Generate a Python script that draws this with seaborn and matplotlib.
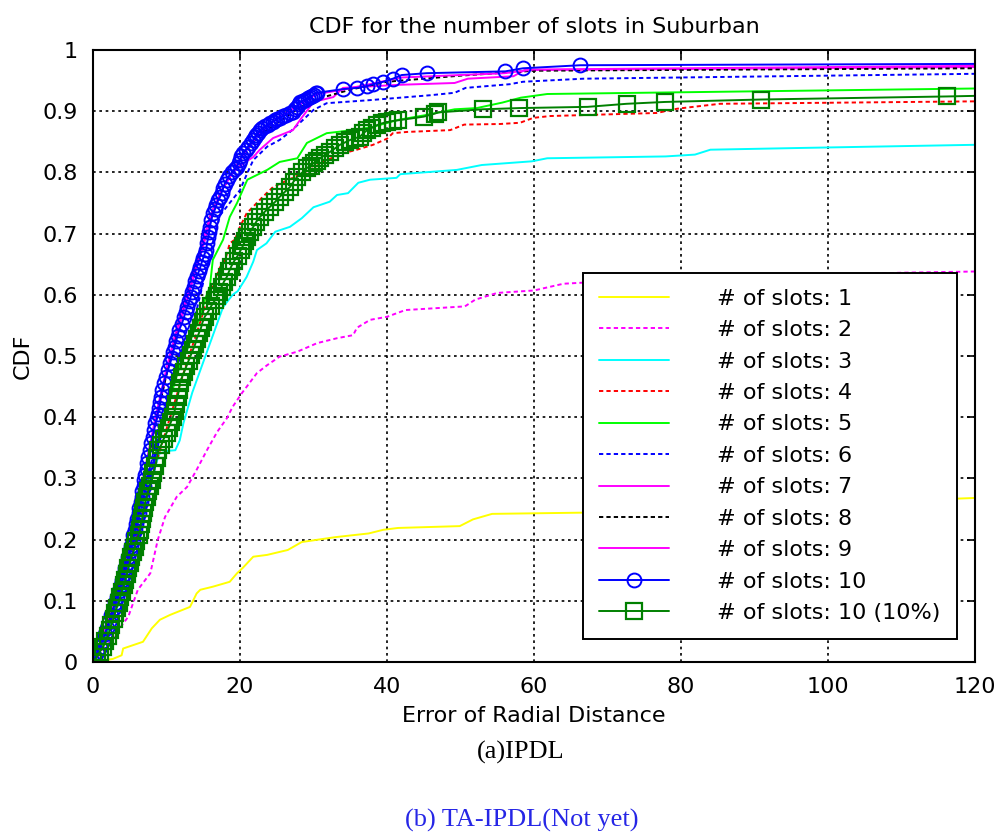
import matplotlib
matplotlib.use("Agg")
import matplotlib.pyplot as plt
import seaborn as sns

# ---------------- data ----------------
labels = ["# of slots: 1", "# of slots: 2", "# of slots: 3", "# of slots: 4",
          "# of slots: 5", "# of slots: 6", "# of slots: 7", "# of slots: 8",
          "# of slots: 9", "# of slots: 10", "# of slots: 10 (10%)"]

s1_x = [0, 2.7, 3.9, 4.1, 6.8, 8.0, 9.1, 10.5, 13.2, 14.1, 14.6, 16.3, 18.6, 19.6, 20.4,
        21.8, 23.7, 26.5, 28.4, 33.0, 37.5, 39.5, 41.5, 49.9, 51.7, 54.3, 66.7, 120]
s1_y = [0, 0.005, 0.011, 0.022, 0.033, 0.055, 0.069, 0.077, 0.09, 0.112, 0.118, 0.123, 0.131,
        0.145, 0.154, 0.172, 0.175, 0.183, 0.196, 0.204, 0.21, 0.216, 0.219, 0.222, 0.233,
        0.242, 0.244, 0.268]

s2_x = [0, 1.5, 3.0, 4.8, 6.1, 7.8, 8.8, 9.8, 11.4, 12.8, 14.1, 15.5, 16.9, 18.2, 19.0, 20.3,
        22.3, 23.7, 25.4, 27.8, 30.5, 33.2, 35.4, 35.9, 37.7, 40.0, 42.5, 50.6, 52.0, 55.0,
        60.0, 64.0, 67.0, 110.0, 120]
s2_y = [0, 0.02, 0.045, 0.074, 0.118, 0.145, 0.199, 0.237, 0.27, 0.286, 0.314, 0.346, 0.376,
        0.398, 0.417, 0.44, 0.472, 0.485, 0.499, 0.507, 0.521, 0.529, 0.534, 0.546, 0.559,
        0.564, 0.575, 0.581, 0.592, 0.603, 0.607, 0.618, 0.62, 0.636, 0.638]

s3_x = [0, 1.0, 2.0, 3.0, 4.0, 5.0, 6.0, 7.0, 7.8, 8.5, 9.0, 10.2, 11.2, 11.8, 12.3, 13.5,
        15.0, 16.5, 17.7, 19.0, 19.7, 20.9, 21.8, 22.3, 23.6, 24.8, 26.8, 28.4, 30.0, 32.2,
        33.2, 34.7, 36.1, 37.7, 41.3, 41.8, 49.5, 52.9, 59.7, 61.8, 77.9, 81.9, 84.0, 97.0, 120]
s3_y = [0, 0.02, 0.05, 0.08, 0.11, 0.16, 0.2, 0.25, 0.29, 0.32, 0.34, 0.345, 0.346, 0.362,
        0.39, 0.44, 0.49, 0.54, 0.58, 0.6, 0.606, 0.629, 0.654, 0.673, 0.684, 0.703, 0.711,
        0.725, 0.743, 0.752, 0.763, 0.766, 0.783, 0.788, 0.791, 0.797, 0.804, 0.812, 0.818,
        0.823, 0.826, 0.829, 0.837, 0.84, 0.845]

s4_x = [0, 1.4, 3.0, 5.0, 7.0, 8.7, 10.5, 12.0, 13.2, 14.1, 15.5, 16.2, 17.3, 18.0, 18.6,
        19.3, 20.0, 20.9, 22.7, 23.1, 24.5, 27.0, 29.5, 31.8, 34.0, 35.9, 38.1, 40.0, 40.8,
        42.7, 48.6, 50.5, 55.4, 58.1, 59.9, 62.2, 76.7, 79.5, 85.3, 120]
s4_y = [0, 0.025, 0.08, 0.16, 0.26, 0.33, 0.4, 0.46, 0.505, 0.537, 0.591, 0.613, 0.645,
        0.657, 0.684, 0.69, 0.711, 0.733, 0.755, 0.76, 0.776, 0.79, 0.804, 0.82, 0.831, 0.837,
        0.845, 0.855, 0.864, 0.866, 0.869, 0.878, 0.879, 0.881, 0.889, 0.892, 0.897, 0.904,
        0.912, 0.916]

s5_x = [0, 1.0, 2.5, 4.0, 5.5, 7.0, 8.5, 10.0, 11.2, 12.2, 12.8, 13.6, 14.6, 15.2, 15.9,
        16.3, 17.7, 18.6, 19.6, 21.0, 23.7, 25.4, 27.8, 29.1, 31.8, 35.4, 38.0, 41.6, 45.0,
        49.2, 52.2, 55.7, 58.2, 61.8, 120]
s5_y = [0, 0.02, 0.07, 0.13, 0.2, 0.27, 0.34, 0.41, 0.46, 0.498, 0.51, 0.537, 0.564, 0.591,
        0.613, 0.657, 0.69, 0.727, 0.75, 0.788, 0.804, 0.817, 0.823, 0.848, 0.864, 0.869,
        0.874, 0.886, 0.893, 0.903, 0.905, 0.914, 0.922, 0.928, 0.937]

s6_x = [0, 1.2, 2.8, 4.5, 6.0, 7.0, 8.0, 9.0, 10.5, 12.1, 13.2, 14.1, 15.0, 15.8, 16.6,
        17.3, 18.6, 20.0, 21.0, 21.8, 23.7, 25.4, 26.8, 28.6, 30.0, 31.8, 37.7, 45.9, 49.2,
        50.7, 56.7, 58.5, 66.7, 120]
s6_y = [0, 0.03, 0.08, 0.15, 0.22, 0.28, 0.33, 0.39, 0.45, 0.49, 0.54, 0.575, 0.62, 0.66,
        0.7, 0.73, 0.75, 0.771, 0.799, 0.82, 0.842, 0.853, 0.866, 0.886, 0.902, 0.913, 0.918,
        0.926, 0.93, 0.938, 0.944, 0.948, 0.953, 0.961]

s7_x = [0, 1.0, 2.5, 4.0, 5.5, 7.0, 8.5, 10.0, 11.5, 13.0, 14.5, 16.0, 17.5, 19.0, 20.5,
        21.8, 22.7, 24.5, 27.2, 28.2, 30.0, 32.7, 34.0, 41.6, 49.2, 51.0, 57.2, 58.7, 120]
s7_y = [0, 0.03, 0.08, 0.14, 0.21, 0.3, 0.39, 0.47, 0.54, 0.6, 0.66, 0.72, 0.77, 0.8, 0.815,
        0.825, 0.837, 0.856, 0.869, 0.886, 0.915, 0.923, 0.938, 0.943, 0.946, 0.953, 0.957,
        0.967, 0.972]

s8_x = [0, 1.0, 2.5, 4.0, 5.5, 7.0, 8.5, 10.0, 11.5, 13.0, 14.5, 16.0, 17.5, 19.0, 20.5,
        22.5, 25.0, 28.0, 30.5, 35.0, 40.0, 50.0, 60.0, 120]
s8_y = [0, 0.03, 0.08, 0.14, 0.21, 0.3, 0.39, 0.47, 0.55, 0.61, 0.67, 0.73, 0.77, 0.8,
        0.83, 0.86, 0.88, 0.905, 0.92, 0.935, 0.948, 0.958, 0.966, 0.97]

s9_x = [0, 1.0, 2.5, 4.0, 5.5, 7.0, 8.5, 10.0, 11.5, 13.0, 14.5, 16.0, 17.5, 19.0, 20.5,
        22.5, 25.0, 28.0, 30.5, 34.0, 42.0, 56.0, 60.0, 120]
s9_y = [0, 0.03, 0.09, 0.15, 0.22, 0.31, 0.4, 0.48, 0.55, 0.61, 0.67, 0.73, 0.77, 0.8, 0.83,
        0.862, 0.888, 0.91, 0.928, 0.935, 0.955, 0.962, 0.968, 0.974]

# slots 10: dense circle markers read along the band, then the sparse ones
s10_x = [0.0, 0.3, 0.6, 0.9, 1.3, 1.6, 1.9, 2.2, 2.5, 2.8, 3.0, 3.3, 3.6, 3.8, 4.0, 4.2, 4.4,
         4.6, 4.8, 5.0, 5.2, 5.4, 5.5, 5.7, 5.9, 6.0, 6.2, 6.3, 6.5, 6.6, 6.7, 6.9, 7.0, 7.1,
         7.3, 7.4, 7.5, 7.7, 7.9, 8.1, 8.3, 8.5, 8.7, 8.8, 9.0, 9.1, 9.2, 9.4, 9.6, 9.9, 10.2,
         10.5, 10.7, 10.9, 11.1, 11.3, 11.5, 11.7, 12.1, 12.4, 12.6, 12.8, 13.1, 13.3, 13.5,
         13.7, 13.9, 14.1, 14.4, 14.6, 14.8, 15.0, 15.2, 15.4, 15.5, 15.7, 15.8, 15.9, 16.1,
         16.3, 16.6, 16.8, 17.0, 17.3, 17.5, 17.7, 17.9, 18.2, 18.5, 18.9, 19.3, 19.6, 19.8,
         20.0, 20.2, 20.4, 20.8, 21.1, 21.5, 21.8, 22.0, 22.2, 22.5, 22.7, 23.0, 23.4, 23.8,
         24.1, 24.5, 24.8, 25.1, 25.4, 25.9, 26.3, 26.8, 27.2, 27.5, 27.7, 28.0, 28.2, 28.6,
         28.9, 29.2, 29.5, 29.8, 30.0, 30.3, 30.5,
         34.0, 35.9, 37.3, 38.1, 39.5, 40.8, 42.0, 45.4, 56.1, 58.5, 66.3, 140.0]
s10_y = [0.0, 0.008, 0.016, 0.025, 0.035, 0.045, 0.055, 0.066, 0.077, 0.088, 0.097, 0.106,
         0.116, 0.125, 0.134, 0.144, 0.153, 0.162, 0.172, 0.181, 0.19, 0.199, 0.208, 0.216,
         0.225, 0.234, 0.243, 0.252, 0.261, 0.27, 0.279, 0.288, 0.297, 0.306, 0.316, 0.325,
         0.335, 0.346, 0.357, 0.368, 0.379, 0.39, 0.398, 0.405, 0.415, 0.424, 0.433, 0.444,
         0.456, 0.466, 0.477, 0.488, 0.497, 0.506, 0.515, 0.524, 0.533, 0.542, 0.553, 0.564,
         0.572, 0.58, 0.589, 0.597, 0.605, 0.613, 0.622, 0.63, 0.638, 0.645, 0.653, 0.66,
         0.667, 0.673, 0.684, 0.695, 0.703, 0.711, 0.722, 0.733, 0.74, 0.747, 0.754, 0.76,
         0.767, 0.774, 0.781, 0.788, 0.794, 0.8, 0.805, 0.809, 0.815, 0.82, 0.826, 0.832,
         0.837, 0.842, 0.848, 0.853, 0.857, 0.861, 0.865, 0.869, 0.872, 0.875, 0.878, 0.88,
         0.883, 0.885, 0.887, 0.889, 0.892, 0.894, 0.897, 0.899, 0.903, 0.907, 0.911, 0.915,
         0.917, 0.919, 0.921, 0.923, 0.925, 0.927, 0.929, 0.93,
         0.936, 0.938, 0.941, 0.944, 0.948, 0.953, 0.959, 0.962, 0.965, 0.97, 0.975, 0.978]

# slots 10 (10%): dense square markers, then the sparse ones
s11_x = [0.0, 0.5, 0.9, 1.4, 1.7, 2.0, 2.3, 2.5, 2.8, 3.0, 3.2, 3.5, 3.7, 3.9, 4.2, 4.4, 4.6,
         4.8, 5.0, 5.2, 5.5, 5.7, 5.9, 6.2, 6.4, 6.5, 6.7, 6.8, 7.0, 7.1, 7.3, 7.5, 7.8, 8.0,
         8.2, 8.5, 8.7, 8.9, 9.3, 9.6, 10.0, 10.3, 10.6, 10.9, 11.1, 11.3, 11.5, 11.7, 11.8,
         12.1, 12.4, 12.7, 13.0, 13.3, 13.6, 13.9, 14.1, 14.4, 14.7, 14.9, 15.2, 15.7, 16.1,
         16.6, 16.9, 17.1, 17.5, 17.8, 18.2, 18.5, 18.8, 19.2, 19.7, 20.1, 20.4, 20.7, 21.0,
         21.4, 21.8, 22.2, 22.7, 23.4, 24.1, 24.8, 25.4, 26.1, 26.8, 27.3, 27.8, 28.5, 29.1,
         29.6, 30.0, 30.5, 30.9, 31.5, 32.2, 32.9, 33.6, 34.3, 35.0, 35.7, 36.3, 36.8, 37.3,
         38.0, 38.6, 39.3, 40.0, 40.8, 41.5,
         45.0, 46.5, 47.0, 53.0, 58.0, 67.3, 72.6, 77.8, 90.9, 116.2, 140.0]
s11_y = [0.0, 0.008, 0.016, 0.025, 0.034, 0.043, 0.052, 0.061, 0.07, 0.08, 0.089, 0.097,
         0.106, 0.115, 0.125, 0.134, 0.143, 0.153, 0.162, 0.171, 0.18, 0.188, 0.197, 0.207,
         0.216, 0.225, 0.234, 0.243, 0.252, 0.261, 0.27, 0.279, 0.288, 0.297, 0.309, 0.321,
         0.334, 0.346, 0.355, 0.364, 0.374, 0.383, 0.392, 0.401, 0.41, 0.422, 0.433, 0.444,
         0.456, 0.465, 0.474, 0.483, 0.492, 0.501, 0.51, 0.519, 0.528, 0.537, 0.546, 0.555,
         0.564, 0.573, 0.582, 0.591, 0.598, 0.605, 0.613, 0.621, 0.629, 0.638, 0.646, 0.655,
         0.664, 0.673, 0.68, 0.688, 0.695, 0.703, 0.711, 0.719, 0.727, 0.736, 0.744, 0.752,
         0.76, 0.768, 0.776, 0.785, 0.793, 0.8, 0.807, 0.811, 0.815, 0.819, 0.823, 0.828,
         0.833, 0.839, 0.845, 0.849, 0.853, 0.856, 0.858, 0.864, 0.869, 0.873, 0.877, 0.88,
         0.882, 0.884, 0.885,
         0.891, 0.896, 0.898, 0.903, 0.905, 0.907, 0.912, 0.915, 0.919, 0.924, 0.93]

xticks = [0, 20, 40, 60, 80, 100, 120]
yticks = [0, 0.1, 0.2, 0.3, 0.4, 0.5, 0.6, 0.7, 0.8, 0.9, 1.0]
ytick_labels = ["0", "0.1", "0.2", "0.3", "0.4", "0.5", "0.6", "0.7", "0.8", "0.9", "1"]

# ---------------- styling ----------------
sns.set_style("white")
plt.rcParams["font.family"] = ["DejaVu Sans"]
plt.rcParams["text.color"] = "black"
plt.rcParams["axes.labelcolor"] = "black"
plt.rcParams["xtick.color"] = "black"
plt.rcParams["ytick.color"] = "black"

dot = (0, (2.2, 1.6))
styles = [
    dict(color="#ffff00", linestyle="-"),
    dict(color="#ff00ff", linestyle=dot),
    dict(color="#00ffff", linestyle="-"),
    dict(color="#ff0000", linestyle=dot),
    dict(color="#00ff00", linestyle="-"),
    dict(color="#0000ff", linestyle=dot),
    dict(color="#ff00ff", linestyle="-"),
    dict(color="#000000", linestyle=dot),
    dict(color="#ff00ff", linestyle="-"),
    dict(color="#0000ff", linestyle="-", marker="o", markersize=10,
         markerfacecolor="none", markeredgecolor="#0000ff", markeredgewidth=1.4),
    dict(color="#008000", linestyle="-", marker="s", markersize=11,
         markerfacecolor="none", markeredgecolor="#008000", markeredgewidth=1.6),
]
series = [(s1_x, s1_y), (s2_x, s2_y), (s3_x, s3_y), (s4_x, s4_y), (s5_x, s5_y),
          (s6_x, s6_y), (s7_x, s7_y), (s8_x, s8_y), (s9_x, s9_y), (s10_x, s10_y),
          (s11_x, s11_y)]

fig = plt.figure(figsize=(10.0, 8.35), dpi=100)
ax = fig.add_axes([0.093, 0.2072, 0.882, 0.733])

for (xs, ys), lab, st in zip(series, labels, styles):
    kw = dict(st)
    kw.setdefault("markeredgecolor", kw["color"])
    sns.lineplot(x=xs, y=ys, ax=ax, label=lab, sort=False, estimator=None,
                 linewidth=1.4, **kw)

ax.set_xlim(0, 120)
ax.set_ylim(0, 1)
ax.set_xticks(xticks)
ax.set_yticks(yticks)
ax.set_yticklabels(ytick_labels)
ax.grid(True, color="black", linestyle=(0, (1.6, 2.2)), linewidth=1.2)
ax.set_axisbelow(True)
ax.tick_params(direction="in", top=True, right=True, length=6, width=1.2,
               labelsize=16, pad=11, colors="black")
for sp in ax.spines.values():
    sp.set_visible(True)
    sp.set_color("black")
    sp.set_linewidth(1.5)

ax.set_title("CDF for the number of slots in Suburban", fontsize=16, pad=12, color="black")
ax.set_xlabel("Error of Radial Distance", fontsize=16, labelpad=6)
ax.set_ylabel("CDF", fontsize=16, labelpad=7)

leg = ax.legend(loc="upper left", bbox_to_anchor=(0.556, 0.636), borderaxespad=0,
                fontsize=16, frameon=True, fancybox=False, framealpha=1,
                edgecolor="black", borderpad=0.72, handlelength=3.15,
                handletextpad=2.15, labelspacing=0.515, numpoints=1)
leg.get_frame().set_linewidth(1.4)
leg.set_zorder(10)

fig.text(0.521, 1 - 752 / 835, "(a)IPDL", ha="center", va="center",
         fontsize=19, family="Liberation Serif", color="black")
fig.text(0.522, 1 - 820 / 835, "(b) TA-IPDL(Not yet)", ha="center", va="center",
         fontsize=19, family="Liberation Serif", color="#2626e6")

fig.savefig("out.png", dpi=100)
